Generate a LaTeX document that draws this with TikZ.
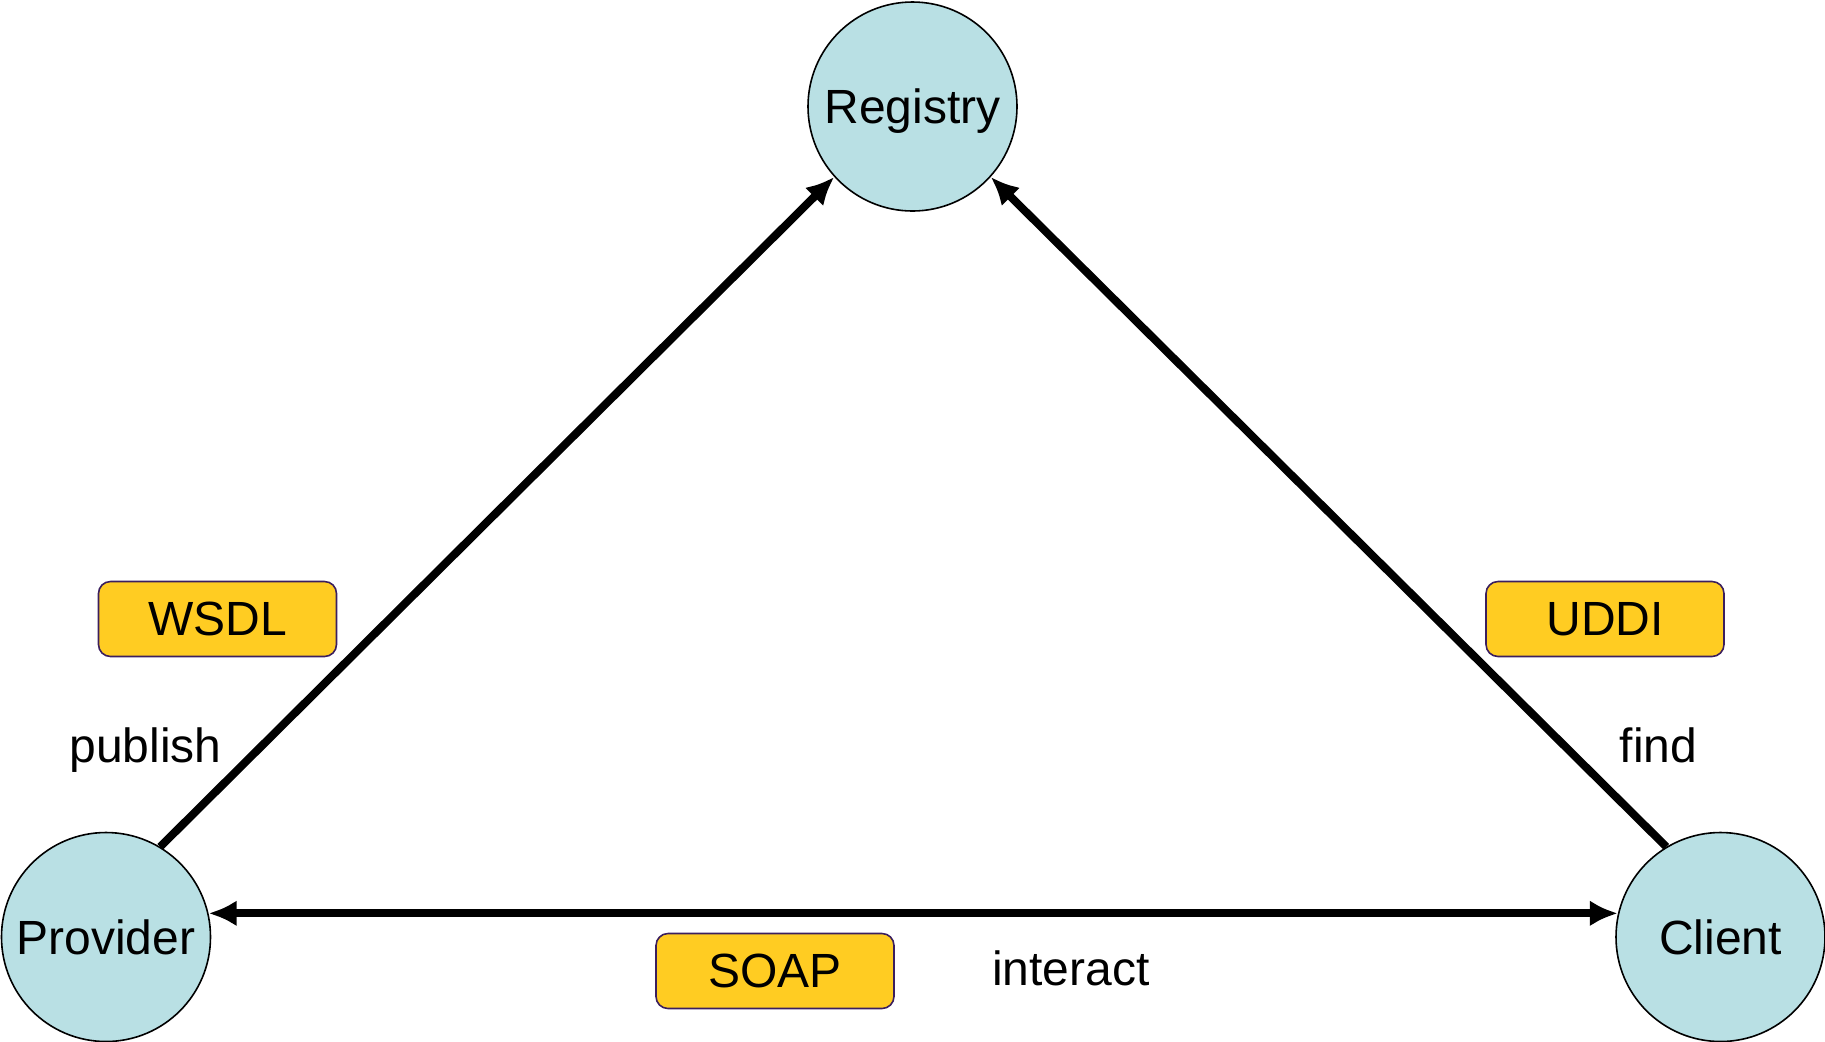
\documentclass[tikz,border=0pt]{standalone}
\usepackage{fontspec}
\setmainfont{Liberation Sans}
\usetikzlibrary{arrows.meta}
\definecolor{roleblue}{HTML}{B9E0E4}
\definecolor{stdyellow}{HTML}{FFCC22}
\definecolor{stdedge}{HTML}{3B1F5E}
\begin{document}
\begin{tikzpicture}[x=0.5pt,y=-0.5pt,
		role/.style = {circle, draw = black, line width = 0.8pt, fill = roleblue, minimum size = 104.5pt, inner sep = 0pt, text depth = 0pt, font = \fontsize{24}{28}\selectfont},
		stdbox/.style = {draw = stdedge, line width = 0.8pt, fill = stdyellow, rounded corners = 6pt, minimum width = 119pt, minimum height = 37.5pt, inner sep = 0pt, text depth = 0pt, font = \fontsize{24}{28}\selectfont},
		verb/.style = {text depth = 0pt, font = \fontsize{24}{28}\selectfont},
		link/.style = {line width = 4pt, -{Latex[length = 14pt, width = 13pt]}}]
		\useasboundingbox (0, 0) rectangle (1825, 1041);
		%%%%%%%%%%%%%
		\node[role] (reg) at (912.5, 106.5) {Registry};
		\node[role] (prov) at (106, 937) {Provider};
		\node[role] (cli) at (1720.5, 937) {Client};
		%%%%%%%%%%%%%
		\node[stdbox] (wsdl) at (217.5, 619) {WSDL};
		\node[stdbox] (uddi) at (1605, 619) {UDDI};
		\node[stdbox] (soap) at (775, 971) {SOAP};
		\node[verb] (publish) at (145.5, 745) {publish};
		\node[verb] (find) at (1658.5, 745) {find};
		\node[verb] (interact) at (1071, 968) {interact};
		%%%%%%%%%%%%%
		\draw [link] (prov.59) to (reg.222);
		\draw [link] (cli.121) to (reg.318);
		\draw [link, {Latex[length = 14pt, width = 13pt]}-{Latex[length = 14pt, width = 13pt]}] (prov.13) to (cli.167);
	\end{tikzpicture}
\end{document}
